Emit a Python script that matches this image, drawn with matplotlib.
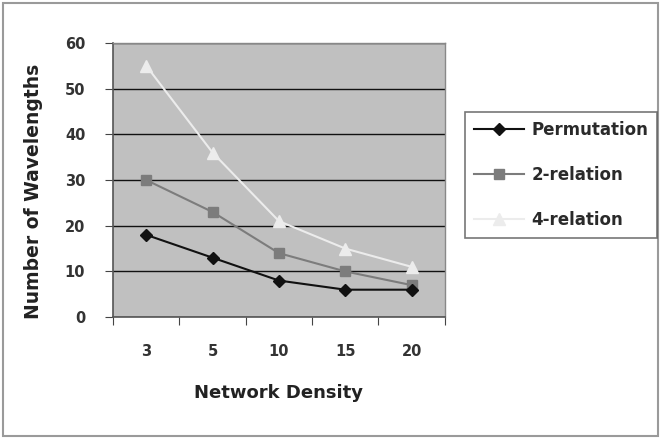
import matplotlib
matplotlib.use("Agg")
import matplotlib.pyplot as plt
from matplotlib.patches import Rectangle

categories = ["3", "5", "10", "15", "20"]
permutation = [18, 13, 8, 6, 6]
relation2 = [30, 23, 14, 10, 7]
relation4 = [55, 36, 21, 15, 11]
yticks = [0, 10, 20, 30, 40, 50, 60]

plt.rcParams['font.family'] = ['DejaVu Sans']

fig = plt.figure(figsize=(6.61, 4.38), dpi=100)
fig.patch.set_facecolor('white')
fig.add_artist(Rectangle((0.004, 0.004), 0.992, 0.99, transform=fig.transFigure,
                         fill=False, edgecolor='#9a9a9a', linewidth=1.5))

ax = fig.add_axes([0.171, 0.276, 0.502, 0.626])
ax.set_facecolor('#c0c0c0')
x = list(range(len(categories)))

ax.plot(x, relation4, color='#ececec', marker='^', markersize=8, linewidth=1.5, label='4-relation', zorder=3)
ax.plot(x, relation2, color='#7c7c7c', marker='s', markersize=7, linewidth=1.5, label='2-relation', zorder=4)
ax.plot(x, permutation, color='#111111', marker='D', markersize=6.5, linewidth=1.5, label='Permutation', zorder=5)

ax.set_xlim(-0.5, len(categories) - 0.5)
ax.set_ylim(0, 60)
ax.set_yticks(yticks)
ax.set_yticklabels([str(v) for v in yticks], fontsize=10.5, fontweight='bold', color='#333333')
ax.yaxis.grid(True, color='#111111', linewidth=1.0)
ax.set_axisbelow(True)

ax.set_xticks([i - 0.5 for i in range(len(categories) + 1)])
ax.set_xticklabels([])
ax.set_xticks(x, minor=True)
ax.set_xticklabels(categories, minor=True, fontsize=10.5, fontweight='bold', color='#333333')
ax.tick_params(axis='x', which='minor', length=0, pad=19)
ax.tick_params(axis='x', which='major', length=6, color='#444444', direction='out')
ax.tick_params(axis='y', length=6, color='#444444', direction='out', pad=14)

for s in ['top', 'right']:
    ax.spines[s].set_color('#888888')
    ax.spines[s].set_linewidth(1.0)
for s in ['left', 'bottom']:
    ax.spines[s].set_color('#555555')
    ax.spines[s].set_linewidth(1.2)

ax.set_xlabel('Network Density', fontsize=13, fontweight='bold', color='#222222')
ax.xaxis.set_label_coords(0.5, -0.245)
ax.set_ylabel('Number of Wavelengths', fontsize=13.5, fontweight='bold', color='#222222')
ax.yaxis.set_label_coords(-0.21, 0.46)

handles, labels = ax.get_legend_handles_labels()
order = [2, 1, 0]
leg = fig.legend([handles[i] for i in order], [labels[i] for i in order],
                 loc='upper left', bbox_to_anchor=(0.703, 0.744),
                 frameon=True, fancybox=False,
                 prop={'weight': 'bold', 'size': 12},
                 handlelength=3.0, handletextpad=0.45, labelspacing=1.6, borderpad=0.55,
                 borderaxespad=0, edgecolor='#555555')
leg.get_frame().set_linewidth(1.2)
for t in leg.get_texts():
    t.set_color('#2a2a2a')

fig.savefig('out.png', dpi=100, facecolor='white')
